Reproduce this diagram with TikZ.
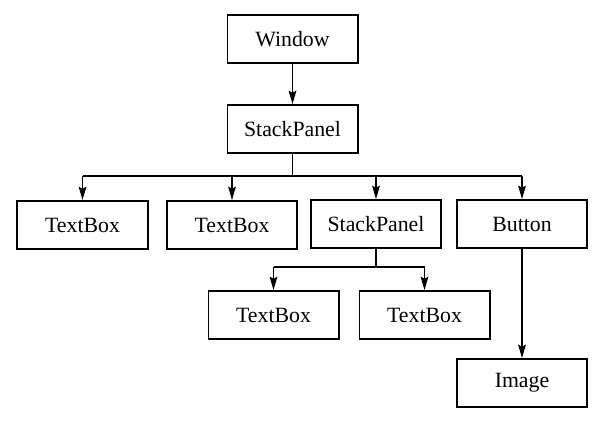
\documentclass[tikz,border=0pt]{standalone}
\usepackage{fontspec}
\setmainfont{Liberation Serif}
\usetikzlibrary{arrows.meta,positioning}

\tikzset{
    ctrl/.style={draw, line width=1.4pt, minimum width=3.25cm, minimum height=1.2cm,
                 font=\fontsize{15.5}{18}\selectfont, inner sep=0pt},
    link/.style={line width=0.9pt},
    arr/.style={link, -{Stealth[length=9.5pt, width=5.5pt, inset=1.5pt]}}
}

\begin{document}
\begin{tikzpicture}[x=0.025cm, y=-0.025cm]
    \useasboundingbox (0,0) rectangle (605,424);

    % Window and main StackPanel
    \node[ctrl] (win) at (292.5,39) {Window};
    \node[ctrl] (sp) at (292.5,129) {StackPanel};
    \draw[arr] (win.south) -- (sp.north);

    % Children of the main StackPanel
    \node[ctrl] (tb1) at (82.5,225) {TextBox};
    \node[ctrl] (tb2) at (232,225) {TextBox};
    \node[ctrl] (sp2) at (376,224) {StackPanel};
    \node[ctrl] (btn) at (522,224) {Button};

    \coordinate (bus) at (sp.south |- 0,176);
    \draw[link] (sp.south) -- (bus);
    \draw[link] (tb1 |- bus) -- (btn |- bus);
    \foreach \n in {tb1,tb2,sp2,btn}
        \draw[arr] (\n |- bus) -- (\n.north);

    % Children of the inner StackPanel
    \node[ctrl] (tb3) at (273.5,315) {TextBox};
    \node[ctrl] (tb4) at (424.5,315) {TextBox};

    \coordinate (subbus) at (sp2.south |- 0,267);
    \draw[link] (sp2.south) -- (subbus);
    \draw[link] (tb3 |- subbus) -- (tb4 |- subbus);
    \foreach \n in {tb3,tb4}
        \draw[arr] (\n |- subbus) -- (\n.north);

    % Content of the Button
    \node[ctrl] (img) at (522,383) {Image};
    \draw[arr] (btn.south) -- (img.north);
\end{tikzpicture}
\end{document}
